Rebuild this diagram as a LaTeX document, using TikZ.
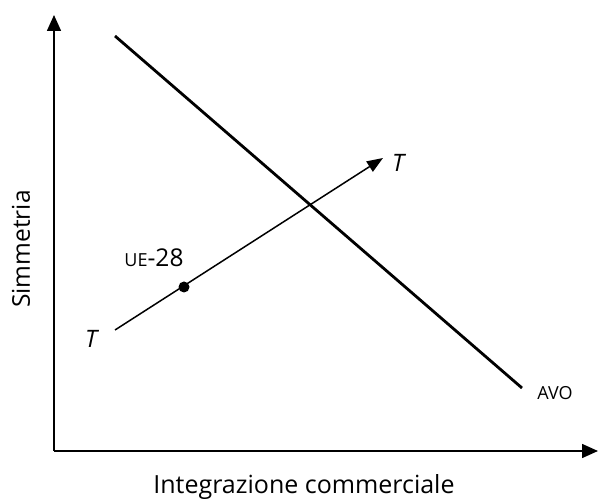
\documentclass[tikz,border=0pt]{standalone}
\usepackage{fontspec}
\setmainfont{Open Sans}
\usetikzlibrary{arrows.meta}
\newcommand{\fakesc}[2]{{\fontsize{#1}{#1}\selectfont #2}}
\begin{document}
\begin{tikzpicture}[x=1pt,y=-1pt,
  axis/.style={line width=1.6pt,-{Triangle[length=16pt,width=14pt]}},
  curve/.style={line width=2.8pt},
  path/.style={line width=1.5pt},
  lbl/.style={font=\fontsize{24.5}{28}\selectfont},
  tl/.style={font=\fontsize{24}{28}\selectfont\itshape}]
\useasboundingbox (0,0) rectangle (598,502);
\coordinate (o) at (54,451);
\coordinate (ytop) at (54,15);
\coordinate (xend) at (598,451);
\draw[axis] (o) -- (ytop);
\draw[axis] (o) -- (xend);
\coordinate (a1) at (115,36);
\coordinate (a2) at (522,388);
\draw[curve] (a1) -- (a2);
\coordinate (t1) at (115,330);
\coordinate (t2) at (383,158);
\draw[path,-{Triangle[length=16pt,width=12pt]}] (t1) -- (t2);
\node[circle,fill=black,inner sep=0pt,minimum size=11pt] (ue) at (184,287) {};
\node[tl] (tlabA) at (398,163) {T};
\node[tl] (tlabB) at (91,339) {T};
\node[lbl,anchor=base] (uel) at (154,267) {\fakesc{18}{UE}-28};
\node[anchor=base] (avo) at (555,400) {\fakesc{18}{AVO}};
\node[lbl,rotate=90] (ylab) at (21,249) {Simmetria};
\node[font=\fontsize{25}{28}\selectfont,anchor=base] (xlab) at (304,494) {Integrazione commerciale};
\end{tikzpicture}
\end{document}
